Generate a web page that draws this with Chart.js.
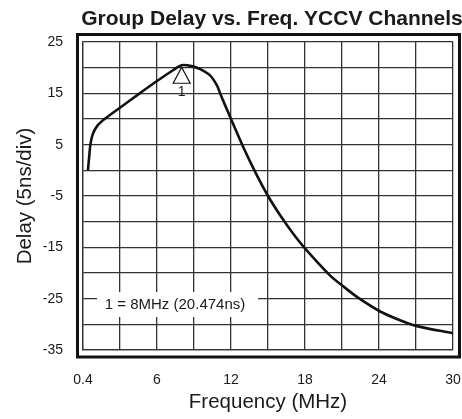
<!DOCTYPE html>
<html>
<head>
<meta charset="utf-8">
<script src="https://cdn.jsdelivr.net/npm/chart.js@4"></script>
<style>
    html, body { margin: 0; padding: 0; background: #fff; }
    canvas { display: block; }
</style>
</head>
<body>
<canvas id="delayChart" width="462" height="419"></canvas>
<script>
    // curve
    const freqMHz = [0.4, 0.5, 0.6, 0.8, 1.2, 1.75, 3.05, 4.6, 6.0, 7.3, 8.0, 8.8, 9.5, 10.3, 10.85, 11.1, 11.5, 12.0, 13.0, 14.0, 15.0, 16.0, 17.0, 18.0, 20.0, 21.1, 22.3, 24.1, 25.5, 27.0, 30.0];
    const delayNs = [0, 2.6, 5.0, 7.1, 8.8, 10.0, 12.3, 15.0, 17.4, 19.5, 20.47, 20.3, 19.7, 18.5, 16.6, 15.1, 12.8, 10.0, 4.5, -0.5, -5.0, -8.8, -12.2, -15.2, -20.4, -22.6, -24.8, -27.5, -29.0, -30.3, -31.75];

    const xTickValues = [0, 6, 12, 18, 24, 30];
    const xTickLabels = ["0.4", "6", "12", "18", "24", "30"];
    const yTickValues = [25, 15, 5, -5, -15, -25, -35];

    const markerFreq = 8;
    const markerDelay = 20.474;
    const markerLabel = "1";
    const markerNote = "1 = 8MHz (20.474ns)";
    const chartTitle = "Group Delay vs. Freq. YCCV Channels";

    const fontFamily = "'Liberation Sans', Arial, Helvetica, sans-serif";
    const ink = "#1a1a1a";
    const gridColor = "#333";

    Chart.defaults.font.family = fontFamily;
    Chart.defaults.color = ink;

    const decorations = {
        id: "decorations",
        afterDraw(chart) {
            const { ctx, chartArea, scales } = chart;
            ctx.save();

            // heavy outer frame
            ctx.strokeStyle = "#111";
            ctx.lineWidth = 3;
            ctx.strokeRect(chartArea.left - 5.5, chartArea.top - 7.5, chartArea.width + 12, chartArea.height + 14.5);

            // title
            ctx.fillStyle = ink;
            ctx.font = "bold 21px " + fontFamily;
            ctx.textAlign = "center";
            ctx.textBaseline = "alphabetic";
            ctx.fillText(chartTitle, 272, 25);

            // marker triangle at the peak
            const px = scales.x.getPixelForValue(markerFreq);
            const py = scales.y.getPixelForValue(markerDelay);
            ctx.beginPath();
            ctx.moveTo(px, py + 2);
            ctx.lineTo(px - 8.5, py + 18);
            ctx.lineTo(px + 8.5, py + 18);
            ctx.closePath();
            ctx.fillStyle = "#fff";
            ctx.fill();
            ctx.strokeStyle = "#111";
            ctx.lineWidth = 1.2;
            ctx.stroke();

            ctx.fillStyle = ink;
            ctx.font = "14px " + fontFamily;
            ctx.textBaseline = "middle";
            ctx.fillText(markerLabel, px, py + 27);

            // marker note box
            ctx.fillStyle = "#fff";
            ctx.fillRect(97, 292, 161, 25);
            ctx.fillStyle = ink;
            ctx.font = "15px " + fontFamily;
            ctx.fillText(markerNote, 175, 305);

            ctx.restore();
        }
    };

    new Chart(document.getElementById("delayChart"), {
        type: "line",
        data: {
            datasets: [{
                data: freqMHz.map((f, i) => ({ x: f, y: delayNs[i] })),
                borderColor: "#111",
                borderWidth: 2.6,
                pointRadius: 0,
                tension: 0.3,
                fill: false
            }]
        },
        options: {
            responsive: false,
            animation: false,
            layout: {
                padding: { top: 42, right: 9, bottom: 0, left: 0 }
            },
            plugins: {
                legend: { display: false },
                tooltip: { enabled: false },
                title: { display: false }
            },
            scales: {
                x: {
                    type: "linear",
                    min: 0,
                    max: 30,
                    afterFit: (scale) => {
                        scale.height = 69;
                        scale.paddingLeft = 0;
                        scale.paddingRight = 0;
                    },
                    ticks: {
                        stepSize: 3,
                        autoSkip: false,
                        maxRotation: 0,
                        padding: 22,
                        font: { size: 14 },
                        color: ink,
                        callback: (value) => {
                            const i = xTickValues.indexOf(value);
                            return i >= 0 ? xTickLabels[i] : "";
                        }
                    },
                    grid: { color: gridColor, lineWidth: 1.3, drawTicks: false },
                    border: { color: gridColor, width: 1.3 },
                    title: {
                        display: true,
                        text: "Frequency (MHz)",
                        font: { size: 20.5 },
                        color: ink,
                        padding: { top: 0, bottom: 4 }
                    }
                },
                y: {
                    min: -35,
                    max: 25,
                    afterFit: (scale) => {
                        scale.width = 83;
                        scale.paddingTop = 0;
                        scale.paddingBottom = 0;
                    },
                    ticks: {
                        stepSize: 5,
                        autoSkip: false,
                        padding: 20,
                        font: { size: 14 },
                        color: ink,
                        callback: (value) => yTickValues.includes(value) ? String(value) : ""
                    },
                    grid: { color: gridColor, lineWidth: 1.3, drawTicks: false },
                    border: { color: gridColor, width: 1.3 },
                    title: {
                        display: true,
                        text: "Delay (5ns/div)",
                        font: { size: 20.5 },
                        color: ink,
                        padding: { top: 13, bottom: 0 }
                    }
                }
            }
        },
        plugins: [decorations]
    });
</script>
</body>
</html>
